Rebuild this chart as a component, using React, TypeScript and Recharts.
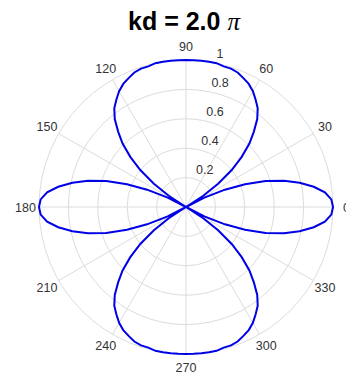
import React from "react";
import {
  RadarChart,
  Radar,
  PolarGrid,
  PolarAngleAxis,
  PolarRadiusAxis,
} from "recharts";

// angle (deg) of every sample, counter-clockwise from the +x axis
const ANGLES = [
  0, 3, 6, 9, 12, 15, 18, 21, 24, 27, 30, 33, 36, 39, 42, 45, 48, 51, 54, 57,
  60, 63, 66, 69, 72, 75, 78, 81, 84, 87, 90, 93, 96, 99, 102, 105, 108, 111,
  114, 117, 120, 123, 126, 129, 132, 135, 138, 141, 144, 147, 150, 153, 156,
  159, 162, 165, 168, 171, 174, 177, 180, 183, 186, 189, 192, 195, 198, 201,
  204, 207, 210, 213, 216, 219, 222, 225, 228, 231, 234, 237, 240, 243, 246,
  249, 252, 255, 258, 261, 264, 267, 270, 273, 276, 279, 282, 285, 288, 291,
  294, 297, 300, 303, 306, 309, 312, 315, 318, 321, 324, 327, 330, 333, 336,
  339, 342, 345, 348, 351, 354, 357,
];

// normalised array factor
const GAIN = [
  // 0 - 90
  1.0, 0.99, 0.95, 0.88, 0.79, 0.69, 0.57, 0.43, 0.29, 0.14, 0.0, 0.14, 0.27,
  0.4, 0.51, 0.61, 0.69, 0.77, 0.83, 0.87, 0.91, 0.94, 0.96, 0.98, 0.99, 0.99,
  1.0, 1.0, 1.0, 1.0, 1.0,
  // 93 - 180
  1.0, 1.0, 1.0, 1.0, 0.99, 0.99, 0.98, 0.96, 0.94, 0.91, 0.87, 0.83, 0.77,
  0.69, 0.61, 0.51, 0.4, 0.27, 0.14, 0.0, 0.14, 0.29, 0.43, 0.57, 0.69, 0.79,
  0.88, 0.95, 0.99, 1.0,
  // 183 - 270
  0.99, 0.95, 0.88, 0.79, 0.69, 0.57, 0.43, 0.29, 0.14, 0.0, 0.14, 0.27, 0.4,
  0.51, 0.61, 0.69, 0.77, 0.83, 0.87, 0.91, 0.94, 0.96, 0.98, 0.99, 0.99, 1.0,
  1.0, 1.0, 1.0, 1.0,
  // 273 - 357
  1.0, 1.0, 1.0, 1.0, 0.99, 0.99, 0.98, 0.96, 0.94, 0.91, 0.87, 0.83, 0.77,
  0.69, 0.61, 0.51, 0.4, 0.27, 0.14, 0.0, 0.14, 0.29, 0.43, 0.57, 0.69, 0.79,
  0.88, 0.95, 0.99,
];

const ANGLE_LABELS = [0, 30, 60, 90, 120, 150, 180, 210, 240, 270, 300, 330];
const RADIUS_TICKS = [0.2, 0.4, 0.6, 0.8, 1];

const data = ANGLES.map((deg, i) => ({ deg, r: GAIN[i] }));

const FONT = '"Liberation Sans", Arial, Helvetica, sans-serif';
const TICK_COLOR = "#333333";
const GRID_COLOR = "#dcdcdc";

const AngleTick = (props: any) => {
  const { x, y, payload } = props;
  return (
    <text
      x={x}
      y={y + 4.5}
      textAnchor="middle"
      fontSize={12.5}
      fontFamily={FONT}
      fill={TICK_COLOR}
    >
      {payload.value}
    </text>
  );
};

const RadiusTick = (props: any) => {
  const { x, y, payload } = props;
  return (
    <text
      x={x + 5}
      y={y - 4}
      textAnchor="start"
      fontSize={12.5}
      fontFamily={FONT}
      fill={TICK_COLOR}
    >
      {payload.value}
    </text>
  );
};

export default function App() {
  return (
    <div
      style={{
        position: "absolute",
        left: 0,
        top: 0,
        width: 346,
        height: 380,
        background: "#fff",
      }}
    >
      <RadarChart
        width={346}
        height={380}
        data={data}
        cx={186}
        cy={207}
        innerRadius={0}
        outerRadius={147}
        startAngle={0}
        endAngle={360}
        margin={{ top: 0, right: 0, bottom: 0, left: 0 }}
      >
        <PolarGrid
          gridType="circle"
          polarAngles={ANGLE_LABELS}
          stroke={GRID_COLOR}
          strokeWidth={1}
        />
        <PolarAngleAxis
          dataKey="deg"
          type="number"
          domain={[0, 360]}
          ticks={ANGLE_LABELS}
          tick={<AngleTick />}
          tickSize={13.5}
          tickLine={false}
          axisLine={false}
        />
        <PolarRadiusAxis
          angle={80}
          type="number"
          domain={[0, 1]}
          ticks={RADIUS_TICKS}
          tick={<RadiusTick />}
          tickLine={false}
          axisLine={false}
        />
        <Radar
          dataKey="r"
          stroke="#0000e6"
          strokeWidth={2}
          fill="none"
          fillOpacity={0}
          dot={false}
          isAnimationActive={false}
        />
      </RadarChart>
      <svg
        width={346}
        height={45}
        style={{ position: "absolute", left: 0, top: 0, pointerEvents: "none" }}
      >
        <text x={184} y={30} textAnchor="middle" fill="#000">
          <tspan fontFamily={FONT} fontWeight="bold" fontSize={25}>
            kd = 2.0{" "}
          </tspan>
          <tspan
            fontFamily='"Liberation Serif", "Times New Roman", serif'
            fontStyle="italic"
            fontSize={25}
          >
            π
          </tspan>
        </text>
      </svg>
    </div>
  );
}
